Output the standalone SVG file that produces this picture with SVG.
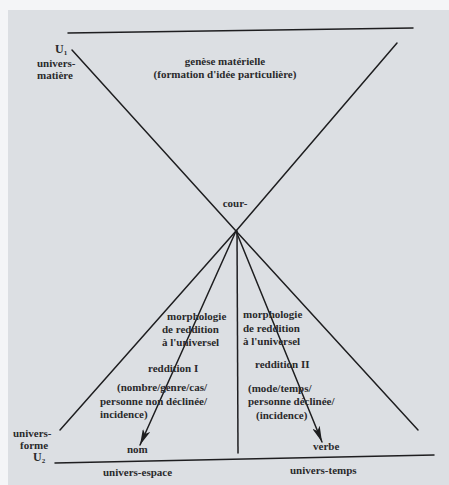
<svg xmlns="http://www.w3.org/2000/svg" width="449" height="485" viewBox="0 0 449 485">
<style>
  text { font-family: "Liberation Serif", "DejaVu Serif", serif; font-weight: bold; font-size: 11px; fill: #2a2a2c; }
  .ln { stroke: #1e1e20; stroke-width: 1.5; fill: none; stroke-linecap: round; }
  .big { font-size: 12px; }
  .sub { font-size: 7px; }
  .mid { text-anchor: middle; }
</style>
<defs>
  <marker id="arr" viewBox="0 0 16 8" refX="16" refY="4" markerWidth="16" markerHeight="8" markerUnits="userSpaceOnUse" orient="auto">
    <path d="M0,0 L16,4 L0,8 L4,4 Z" fill="#1e1e20"/>
  </marker>
</defs>
<rect x="0" y="0" width="449" height="485" fill="#f4f5f7"/>
<rect x="8" y="10" width="441" height="475" fill="#dcdfe3"/>
<g id="connectors">
  <line class="ln" x1="68" y1="33" x2="413" y2="28"/>
  <line class="ln" x1="72" y1="50" x2="236" y2="231"/>
  <line class="ln" x1="397" y1="43" x2="236" y2="231"/>
  <line class="ln" x1="236" y1="231" x2="60" y2="430"/>
  <line class="ln" x1="236" y1="231" x2="140" y2="445" marker-end="url(#arr)"/>
  <line class="ln" x1="237" y1="231" x2="238" y2="453"/>
  <line class="ln" x1="236" y1="231" x2="322" y2="442" marker-end="url(#arr)"/>
  <line class="ln" x1="236" y1="231" x2="418" y2="430"/>
  <line class="ln" x1="55" y1="463" x2="434" y2="455"/>
</g>
<g id="U1">
  <text class="big" x="55" y="53">U<tspan class="sub" dy="1.5">1</tspan></text>
  <text x="37" y="67">univers-</text>
  <text x="37" y="79">matière</text>
</g>
<g id="genese">
  <text class="mid" x="225" y="65">genèse matérielle</text>
  <text class="mid" x="225" y="78">(formation d'idée particulière)</text>
</g>
<g id="cour">
  <text class="mid" x="235" y="207">cour-</text>
</g>
<g id="reddition1">
  <text x="167" y="320">morphologie</text>
  <text x="162" y="333">de reddition</text>
  <text x="162" y="346">à l'universel</text>
  <text x="148" y="372">reddition I</text>
  <text x="117" y="391">(nombre/genre/cas/</text>
  <text x="100" y="405">personne non déclinée/</text>
  <text x="100" y="418">incidence)</text>
</g>
<g id="reddition2">
  <text x="243" y="318">morphologie</text>
  <text x="243" y="332">de reddition</text>
  <text x="243" y="345">à l'universel</text>
  <text x="255" y="368">reddition II</text>
  <text x="248" y="392">(mode/temps/</text>
  <text x="248" y="405">personne déclinée/</text>
  <text x="256" y="419">(incidence)</text>
</g>
<g id="U2">
  <text x="13" y="437">univers-</text>
  <text x="20" y="449">forme</text>
  <text class="big" x="33" y="461">U<tspan class="sub" dy="1.5">2</tspan></text>
</g>
<g id="nom"><text x="127" y="453">nom</text></g>
<g id="verbe"><text x="313" y="450">verbe</text></g>
<g id="espace"><text x="103" y="476">univers-espace</text></g>
<g id="temps"><text x="290" y="474">univers-temps</text></g>
</svg>
